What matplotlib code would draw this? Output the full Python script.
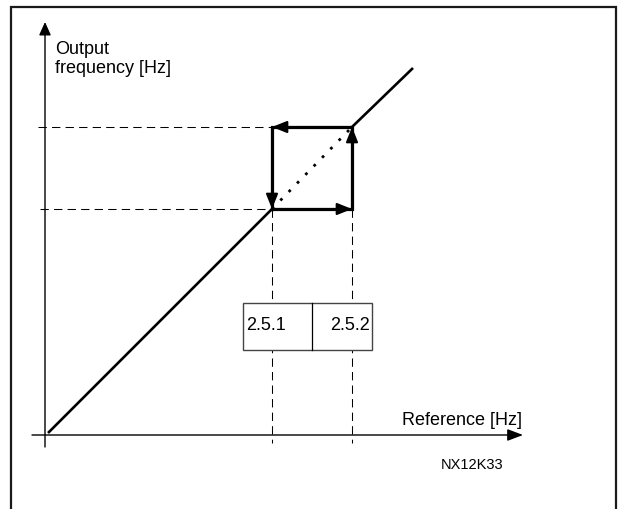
import matplotlib.pyplot as plt
from matplotlib.patches import Rectangle

plt.rcParams['font.family'] = ['Liberation Sans', 'DejaVu Sans']

# diagram values, origin of the axes at (0, 0)
ref_low, ref_high = 227, 307        # reference where 2.5.1 / 2.5.2 act
out_low, out_high = 226, 308        # output frequency at those points
line_x = [3, ref_low, ref_high, 368]
line_y = [2, out_low, out_high, 367]
param_labels = ['2.5.1', '2.5.2']
y_label = 'Output\nfrequency [Hz]'
x_label = 'Reference [Hz]'
code_label = 'NX12K33'

fig = plt.figure(figsize=(6.18, 5.09), dpi=100)
ax = fig.add_axes([0, 0, 1, 1])
ax.set_xlim(-45, 573)
ax.set_ylim(-74, 435)
ax.axis('off')

# outer frame, open at the bottom
ax.plot([-34, -34, 571, 571], [-90, 428, 428, -90], color='#1a1a1a', lw=1.6,
        solid_joinstyle='miter')


def arrow(x0, y0, x1, y1, lw, hl, hw):
    ax.annotate('', xy=(x1, y1), xytext=(x0, y0),
                arrowprops=dict(arrowstyle='-|>,head_length=%s,head_width=%s' % (hl, hw),
                                mutation_scale=1, lw=lw, color='black',
                                shrinkA=0, shrinkB=0), zorder=5)


# axes
arrow(0, -12, 0, 413, 1.0, 8, 3.6)
arrow(-13, 0, 478, 0, 1.0, 9.5, 3.6)

# dashed guide lines
dash = dict(color='black', lw=0.75, ls=(0, (8, 5)), zorder=1)
ax.plot([-7, ref_low], [out_high, out_high], **dash)
ax.plot([-5, ref_low], [out_low, out_low], **dash)
ax.plot([ref_low, ref_low], [out_low, -8], **dash)
ax.plot([ref_high, ref_high], [out_low, -8], **dash)

# characteristic line
ax.plot(line_x[:2], line_y[:2], color='black', lw=1.9, solid_capstyle='butt', zorder=3)
ax.plot(line_x[2:], line_y[2:], color='black', lw=1.9, solid_capstyle='butt', zorder=3)
ax.plot(line_x[1:3], line_y[1:3], color='black', lw=2.0, ls=(0, (1, 3.3)), zorder=3)

# hysteresis loop
ax.plot([ref_low, ref_high, ref_high, ref_low, ref_low],
        [out_low, out_low, out_high, out_high, out_low],
        color='black', lw=2.3, solid_joinstyle='miter', zorder=4)
arrow(ref_low, out_low, ref_high, out_low, 1.5, 9, 3.6)
arrow(ref_high, out_low, ref_high, out_high, 1.5, 9, 3.6)
arrow(ref_high, out_high, ref_low, out_high, 1.5, 9, 3.6)
arrow(ref_low, out_high, ref_low, out_low, 1.5, 9, 3.6)

# parameter box
ax.add_patch(Rectangle((198, 85), 129, 47, facecolor='white', edgecolor='#444444',
                       lw=1.0, zorder=6))
ax.plot([267, 267], [85, 132], color='black', lw=0.9, zorder=7)
ax.text(201, 105, param_labels[0], fontsize=13, ha='left', va='baseline', zorder=8)
ax.text(325, 105, param_labels[1], fontsize=13, ha='right', va='baseline', zorder=8)

# labels
ax.text(10, 362, y_label, fontsize=13, ha='left', va='baseline', linespacing=1.13)
ax.text(357, 10, x_label, fontsize=13, ha='left', va='baseline')
ax.text(396, -34, code_label, fontsize=10.5, ha='left', va='baseline')

fig.savefig('out.png', dpi=100)
